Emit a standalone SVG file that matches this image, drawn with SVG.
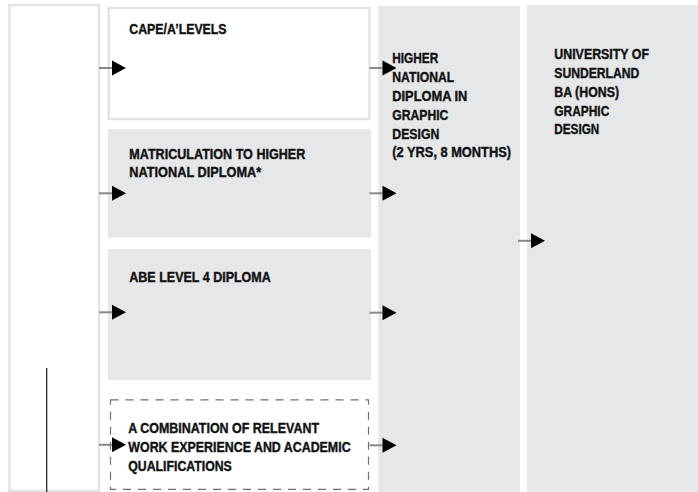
<svg xmlns="http://www.w3.org/2000/svg" width="698" height="492" viewBox="0 0 698 492">
<style>
.t{font-family:"Liberation Sans",Arial,sans-serif;font-weight:bold;font-size:14.8px;fill:#111111;stroke:#111111;stroke-width:0.4}
.wbox{fill:#ffffff;stroke:#e3e3e3;stroke-width:2.5}
.gbox{fill:#e6e7e8;stroke:none}
.dbox{fill:none;stroke:#707070;stroke-width:1.2;stroke-dasharray:8 7}
.conn{stroke:#888888;stroke-width:2;fill:none}
</style>
<defs>
<marker id="arr" markerUnits="userSpaceOnUse" markerWidth="14" markerHeight="15" refX="0" refY="7.5" orient="auto" overflow="visible">
<path d="M0,0 L14,7.5 L0,15 z" fill="#000"/>
</marker>
</defs>
<rect width="698" height="492" fill="#ffffff"/>
<g id="left-column">
<rect class="wbox" x="9.5" y="5" width="89.5" height="486"/>
<line x1="46.7" y1="368" x2="46.7" y2="492" stroke="#1a1a1a" stroke-width="1.2"/>
</g>
<g id="hnd">
<rect class="gbox" x="378.3" y="6" width="141.7" height="486"/>
<text class="t" x="392.3" y="63.4" textLength="46" lengthAdjust="spacingAndGlyphs">HIGHER</text>
<text class="t" x="392.3" y="82.2" textLength="62" lengthAdjust="spacingAndGlyphs">NATIONAL</text>
<text class="t" x="392.3" y="101" textLength="75" lengthAdjust="spacingAndGlyphs">DIPLOMA IN</text>
<text class="t" x="392.3" y="119.8" textLength="56" lengthAdjust="spacingAndGlyphs">GRAPHIC</text>
<text class="t" x="392.3" y="138.5" textLength="47" lengthAdjust="spacingAndGlyphs">DESIGN</text>
<text class="t" x="392.3" y="157" textLength="118.7" lengthAdjust="spacingAndGlyphs">(2 YRS, 8 MONTHS)</text>
</g>
<g id="university">
<rect class="gbox" x="527" y="5" width="171" height="487"/>
<text class="t" x="554.3" y="59" textLength="94.7" lengthAdjust="spacingAndGlyphs">UNIVERSITY OF</text>
<text class="t" x="554.3" y="77.8" textLength="85" lengthAdjust="spacingAndGlyphs">SUNDERLAND</text>
<text class="t" x="554.3" y="96.6" textLength="64.7" lengthAdjust="spacingAndGlyphs">BA (HONS)</text>
<text class="t" x="554.3" y="115.5" textLength="55" lengthAdjust="spacingAndGlyphs">GRAPHIC</text>
<text class="t" x="554.3" y="134.3" textLength="45" lengthAdjust="spacingAndGlyphs">DESIGN</text>
</g>
<g id="cape">
<rect class="wbox" x="108.8" y="8" width="260.7" height="111"/>
<text class="t" x="129.3" y="34" textLength="97.3" lengthAdjust="spacingAndGlyphs">CAPE/A’LEVELS</text>
</g>
<g id="matriculation">
<rect class="gbox" x="107.7" y="129.3" width="263.3" height="108.4"/>
<text class="t" x="129.3" y="159.3" textLength="176" lengthAdjust="spacingAndGlyphs">MATRICULATION TO HIGHER</text>
<text class="t" x="129.3" y="176.9" textLength="132" lengthAdjust="spacingAndGlyphs">NATIONAL DIPLOMA*</text>
</g>
<g id="abe">
<rect class="gbox" x="107.7" y="249" width="263.3" height="131"/>
<text class="t" x="129.3" y="282.2" textLength="141.5" lengthAdjust="spacingAndGlyphs">ABE LEVEL 4 DIPLOMA</text>
</g>
<g id="combination">
<rect class="dbox" x="110.5" y="399.8" width="258" height="89.5"/>
<text class="t" x="128.3" y="433.4" textLength="190.7" lengthAdjust="spacingAndGlyphs">A COMBINATION OF RELEVANT</text>
<text class="t" x="128.3" y="452.2" textLength="222.3" lengthAdjust="spacingAndGlyphs">WORK EXPERIENCE AND ACADEMIC</text>
<text class="t" x="128.3" y="470.6" textLength="103.5" lengthAdjust="spacingAndGlyphs">QUALIFICATIONS</text>
</g>
<g id="connectors">
<line class="conn" x1="99" y1="68" x2="112" y2="68" marker-end="url(#arr)"/>
<line class="conn" x1="99" y1="193.3" x2="112" y2="193.3" marker-end="url(#arr)"/>
<line class="conn" x1="99" y1="312.3" x2="112" y2="312.3" marker-end="url(#arr)"/>
<line class="conn" x1="99" y1="444.8" x2="112" y2="444.8" marker-end="url(#arr)"/>
<line class="conn" x1="369.5" y1="68" x2="382.5" y2="68" marker-end="url(#arr)"/>
<line class="conn" x1="369.5" y1="193.3" x2="382.5" y2="193.3" marker-end="url(#arr)"/>
<line class="conn" x1="369.5" y1="312.7" x2="382.5" y2="312.7" marker-end="url(#arr)"/>
<line class="conn" x1="369.5" y1="445.3" x2="382.5" y2="445.3" marker-end="url(#arr)"/>
<line class="conn" x1="518" y1="240.8" x2="531" y2="240.8" marker-end="url(#arr)"/>
</g>
</svg>
